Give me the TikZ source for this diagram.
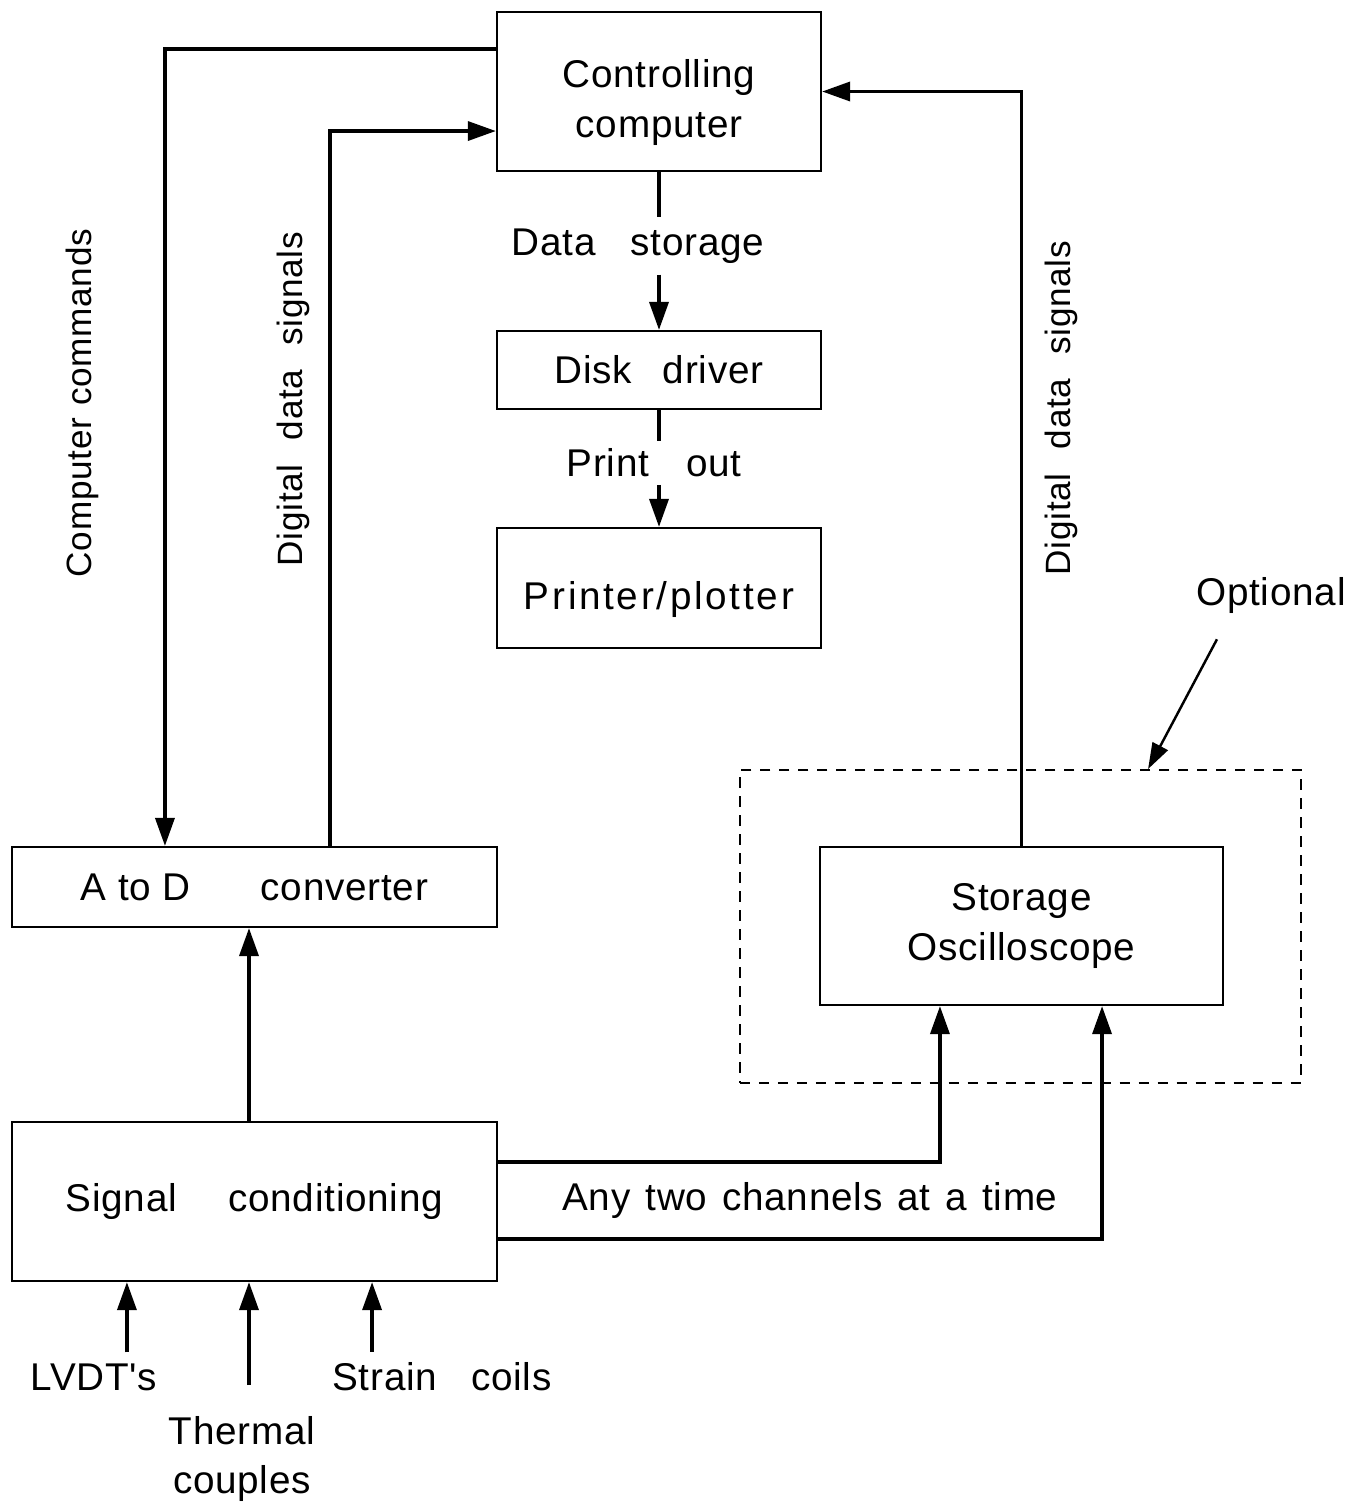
\documentclass[tikz,border=0pt]{standalone}
\usepackage{fontspec}
\setmainfont{Liberation Sans}[LetterSpace=2]
\newfontfamily\plainsans{Liberation Sans}[LetterSpace=2]
\usetikzlibrary{arrows.meta}

\tikzset{
  blk/.style={draw,line width=0.6pt,inner sep=0pt,align=center},
  lbl/.style={inner sep=3pt,align=center},
  vlbl/.style={rotate=90,inner sep=0pt,font=\fontsize{10}{12}\selectfont},
  sig/.style={-{Triangle[length=0.28cm,width=0.19cm]},line width=1pt},
  wire/.style={line width=1pt},
}

\begin{document}
\begin{tikzpicture}[x=0.01cm,y=-0.01cm,font=\fontsize{11}{14}\selectfont]
  \useasboundingbox (0,0) rectangle (1358,1502);

  % main blocks
  \node[blk,minimum width=3.24cm,minimum height=1.59cm] (ctrl) at (659,91.5) {\rule{0pt}{0.5cm}Controlling\\computer};
  \node[blk,minimum width=3.24cm,minimum height=0.78cm] (disk) at (659,370) {Disk\hspace{0.31cm}driver};
  \node[blk,minimum width=3.24cm,minimum height=1.2cm] (plot) at (659,588) {\rule{0pt}{0.5cm}\addfontfeature{LetterSpace=7}Printer/plotter};
  \node[blk,minimum width=4.85cm,minimum height=0.8cm] (adc) at (254.5,887) {A to D\hspace{0.7cm}converter};
  \node[blk,minimum width=4.85cm,minimum height=1.59cm] (cond) at (254.5,1201.5) {Signal\hspace{0.51cm}conditioning};
  \node[blk,minimum width=4.03cm,minimum height=1.58cm] (scope) at (1021.5,926) {Storage\\Oscilloscope};
  \node[draw,line width=0.5pt,dash pattern=on 3pt off 2.4pt,minimum width=5.61cm,minimum height=3.13cm] (opt) at (1020.5,926.5) {};

  % labels
  \node[lbl] (store) at (638,246) {Data\hspace{0.35cm}storage};
  \node[lbl,inner sep=2pt] (print) at (654,463) {Print\hspace{0.37cm}out};
  \node[vlbl] (cmds) at (82,403) {Computer\hspace{0.12cm}commands};
  \node[vlbl] (dataL) at (293,399) {Digital\hspace{0.24cm}data\hspace{0.24cm}signals};
  \node[vlbl] (dataR) at (1061,408) {Digital\hspace{0.24cm}data\hspace{0.24cm}signals};
  \node[lbl] (chan) at (810,1200) {Any\hspace{0.15cm}two\hspace{0.15cm}channels\hspace{0.15cm}at\hspace{0.15cm}a\hspace{0.15cm}time};
  \node[lbl] (optl) at (1271,595) {Optional};
  \node[lbl] (lvdt) at (94,1377) {\plainsans LVDT's};
  \node[lbl] (therm) at (242,1459) {Thermal\\couples};
  \node[lbl] (strain) at (442,1377) {Strain\hspace{0.34cm}coils};

  % computer <-> converter
  \draw[sig] ([yshift=0.425cm]ctrl.west) -| ([xshift=-0.895cm]adc.north);
  \draw[sig] ([xshift=0.755cm]adc.north) |- ([yshift=-0.395cm]ctrl.west);
  \draw[sig] (scope.north) |- (ctrl.east);

  % storage chain
  \draw[wire] (ctrl.south) -- (ctrl.south |- store.north);
  \draw[sig] (ctrl.south |- store.south) -- (disk.north);
  \draw[wire] (disk.south) -- (disk.south |- print.north);
  \draw[sig] (disk.south |- print.south) -- (plot.north);

  % conditioning outputs
  \draw[sig] ([xshift=-0.055cm]cond.north) -- ([xshift=-0.055cm]adc.south);
  \draw[sig] ([yshift=0.395cm]cond.east) -| ([xshift=-0.815cm]scope.south);
  \draw[sig] ([yshift=-0.375cm]cond.east) -| ([xshift=0.805cm]scope.south);

  % transducer inputs
  \coordinate (in1) at ([xshift=-1.275cm]cond.south);
  \coordinate (in2) at ([xshift=-0.055cm]cond.south);
  \coordinate (in3) at ([xshift=1.175cm]cond.south);
  \coordinate (t2) at ([yshift=0.2cm]therm.north);
  \draw[sig] (in1 |- lvdt.north) -- (in1);
  \draw[sig] (in2 |- t2) -- (in2);
  \draw[sig] (in3 |- strain.north) -- (in3);

  % optional pointer
  \coordinate (optend) at ([xshift=1.275cm]opt.north);
  \draw[-{Triangle[length=0.26cm,width=0.17cm]},line width=0.7pt] ([xshift=-0.54cm,yshift=-0.15cm]optl.south) -- (optend);
\end{tikzpicture}
\end{document}
